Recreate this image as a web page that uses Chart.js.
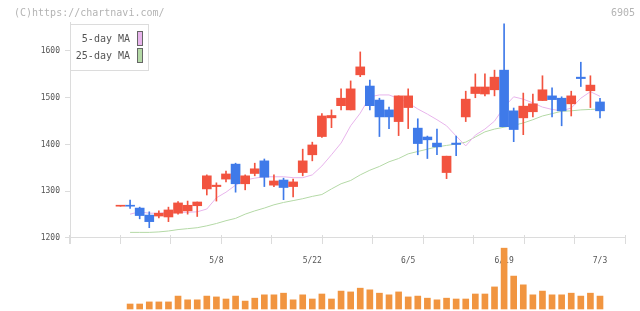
<!DOCTYPE html>
<html>
<head>
<meta charset="utf-8">
<script src="https://cdn.jsdelivr.net/npm/chart.js@4.4.1/dist/chart.umd.min.js"></script>
<style>
  html, body { margin: 0; padding: 0; background: #fff; }
  canvas { display: block; }
</style>
</head>
<body>
<canvas id="chart" width="640" height="311"></canvas>
<script>
// daily candles, 2023/4/19 - 7/3
const dates = ['4/19','4/20','4/21','4/24','4/25','4/26','4/27','4/28','5/1','5/2',
  '5/8','5/9','5/10','5/11','5/12','5/15','5/16','5/17','5/18','5/19',
  '5/22','5/23','5/24','5/25','5/26','5/29','5/30','5/31','6/1','6/2',
  '6/5','6/6','6/7','6/8','6/9','6/12','6/13','6/14','6/15','6/16',
  '6/19','6/20','6/21','6/22','6/23','6/26','6/27','6/28','6/29','6/30','7/3'];
const opens = [1268,1270,1264,1249,1247,1245,1253,1258,1269,1305,
  1310,1326,1358,1316,1338,1365,1313,1324,1310,1340,
  1378,1417,1457,1483,1474,1549,1525,1495,1474,1449,
  1479,1435,1416,1403,1340,1403,1459,1509,1508,1517,
  1559,1472,1457,1470,1494,1504,1499,1487,1544,1515,1491];
const highs = [1268,1281,1266,1256,1258,1266,1278,1279,1277,1335,
  1318,1343,1360,1335,1360,1369,1335,1328,1326,1390,
  1405,1466,1474,1519,1536,1598,1538,1499,1480,1504,
  1519,1455,1418,1433,1375,1418,1514,1551,1551,1559,
  1658,1478,1510,1508,1547,1521,1502,1514,1576,1547,1499];
const lows = [1268,1263,1241,1222,1243,1235,1251,1251,1246,1292,
  1279,1320,1298,1303,1333,1310,1310,1282,1288,1333,
  1365,1415,1436,1474,1474,1545,1474,1417,1434,1419,
  1434,1378,1370,1378,1327,1376,1449,1500,1504,1504,
  1438,1406,1421,1459,1494,1459,1440,1461,1524,1479,1457];
const closes = [1268,1268,1248,1235,1253,1260,1275,1270,1277,1333,
  1313,1337,1316,1333,1348,1330,1322,1308,1320,1365,
  1399,1461,1462,1499,1519,1566,1483,1459,1459,1504,
  1504,1402,1410,1395,1375,1400,1497,1523,1523,1544,
  1438,1432,1482,1487,1517,1496,1472,1504,1541,1527,1472];
const ma5 = [null,1251,1256,1253,1253,1255,1255,1255,1256,1262,
  1286,1298,1313,1324,1328,1331,1331,1331,1329,1329,
  1335,1354,1378,1403,1440,1467,1502,1506,1506,1498,
  1489,1476,1465,1453,1440,1418,1397,1420,1433,1450,
  1480,1502,1497,1489,1480,1475,1472,1478,1499,1513,1503];
const ma25 = [null,1212,1212,1212,1213,1215,1218,1220,1222,1226,
  1231,1237,1242,1251,1258,1264,1271,1276,1280,1284,
  1289,1293,1305,1316,1323,1335,1345,1353,1363,1370,
  1380,1385,1390,1395,1398,1401,1405,1416,1427,1433,
  1437,1441,1446,1453,1461,1466,1471,1472,1474,1475,1476];
// volume, thousand shares
const volumeK = [null,12,12,17,17,17,31,22,22,31,
  29,24,31,19,26,34,34,38,22,34,
  24,36,24,43,41,50,46,38,34,41,
  29,31,26,22,26,24,24,36,36,53,
  146,79,58,34,43,34,34,38,31,38,31];
const dateTicks = ['5/8','5/22','6/5','6/19','7/3'];
const priceTicks = [1200,1300,1400,1500,1600];

const UP = '#f2533f';
const DOWN = '#3f7ae9';
const candleColors = closes.map((c, i) => c >= opens[i] ? UP : DOWN);
const FONT = "'DejaVu Sans Mono', monospace";
const LINE = '#dcdcdc';

const decor = {
  id: 'decor',
  afterDraw(chart) {
    const c = chart.ctx;
    c.save();
    c.font = '10px ' + FONT;
    c.textBaseline = 'middle';
    c.fillStyle = '#b4b4b4';
    c.textAlign = 'left';
    c.fillText('(C)https://chartnavi.com/', 14, 13);
    c.textAlign = 'right';
    c.fillText('6905', 635, 13);

    // legend box
    c.fillStyle = '#fff';
    c.fillRect(70, 24, 79, 47);
    c.strokeStyle = LINE;
    c.lineWidth = 1;
    c.strokeRect(70.5, 24.5, 78, 46);
    const lines = chart.data.datasets.filter(d => d.type === 'line');
    lines.forEach((d, k) => {
      const y = 31 + k * 17;
      c.fillStyle = '#555';
      c.textAlign = 'right';
      c.fillText(d.label, 130, y + 8);
      c.fillStyle = d.borderColor;
      c.fillRect(137, y, 6, 15);
      c.strokeStyle = '#666';
      c.strokeRect(137.5, y + 0.5, 5, 14);
    });
    c.restore();
  }
};

new Chart(document.getElementById('chart'), {
  type: 'bar',
  data: {
    datasets: [
      {
        type: 'bar',
        label: 'body',
        data: dates.map((d, i) => ({ x: i, y: [opens[i], closes[i]] })),
        backgroundColor: candleColors,
        barThickness: 9,
        minBarLength: 1,
        grouped: false
      },
      {
        type: 'bar',
        label: 'wick',
        data: dates.map((d, i) => ({ x: i, y: [lows[i], highs[i]] })),
        backgroundColor: candleColors,
        barThickness: 1,
        grouped: false
      },
      {
        type: 'line',
        label: '5-day MA',
        data: dates.map((d, i) => ({ x: i, y: ma5[i] })),
        borderColor: '#e8b4ec',
        borderWidth: 1,
        pointRadius: 0
      },
      {
        type: 'line',
        label: '25-day MA',
        data: dates.map((d, i) => ({ x: i, y: ma25[i] })),
        borderColor: '#b4d9a6',
        borderWidth: 1,
        pointRadius: 0
      },
      {
        type: 'bar',
        label: 'Volume',
        data: dates.map((d, i) => ({ x: i, y: volumeK[i] })),
        yAxisID: 'yv',
        backgroundColor: '#f19540',
        barThickness: 6,
        grouped: false,
        clip: false
      }
    ]
  },
  options: {
    responsive: false,
    animation: false,
    events: [],
    layout: { padding: { left: 0, right: 15, top: 22, bottom: 68 } },
    plugins: { legend: { display: false }, tooltip: { enabled: false } },
    scales: {
      x: {
        type: 'linear',
        min: -5.266,
        max: 52.607,
        bounds: 'data',
        offset: false,
        position: { y: 1200 },
        grid: { display: false },
        border: { color: LINE },
        afterBuildTicks: s => { s.ticks = dateTicks.map(d => ({ value: dates.indexOf(d) })); },
        ticks: {
          autoSkip: false,
          maxRotation: 0,
          padding: 10,
          color: '#555',
          font: { family: FONT, size: 8 },
          callback: v => dates[v]
        }
      },
      x2: {
        type: 'linear',
        axis: 'x',
        min: 0,
        max: 10,
        bounds: 'data',
        position: { y: 1206.4 },
        grid: { drawOnChartArea: false, tickLength: 9, color: LINE },
        border: { display: false },
        ticks: { display: false, stepSize: 1 }
      },
      y: {
        type: 'linear',
        position: 'left',
        min: 1189.3,
        max: 1662.0,
        bounds: 'data',
        beginAtZero: false,
        afterFit: s => { s.width = 70; },
        afterBuildTicks: s => { s.ticks = priceTicks.map(v => ({ value: v })); },
        grid: { drawOnChartArea: false, tickLength: 5, color: LINE },
        border: { color: LINE },
        ticks: {
          padding: 5,
          color: '#555',
          font: { family: FONT, size: 8 },
          callback: v => String(v)
        }
      },
      yv: {
        type: 'linear',
        display: false,
        min: 158.4,
        max: 688.8,
        bounds: 'data',
        beginAtZero: false
      }
    }
  },
  plugins: [decor]
});
</script>
</body>
</html>
